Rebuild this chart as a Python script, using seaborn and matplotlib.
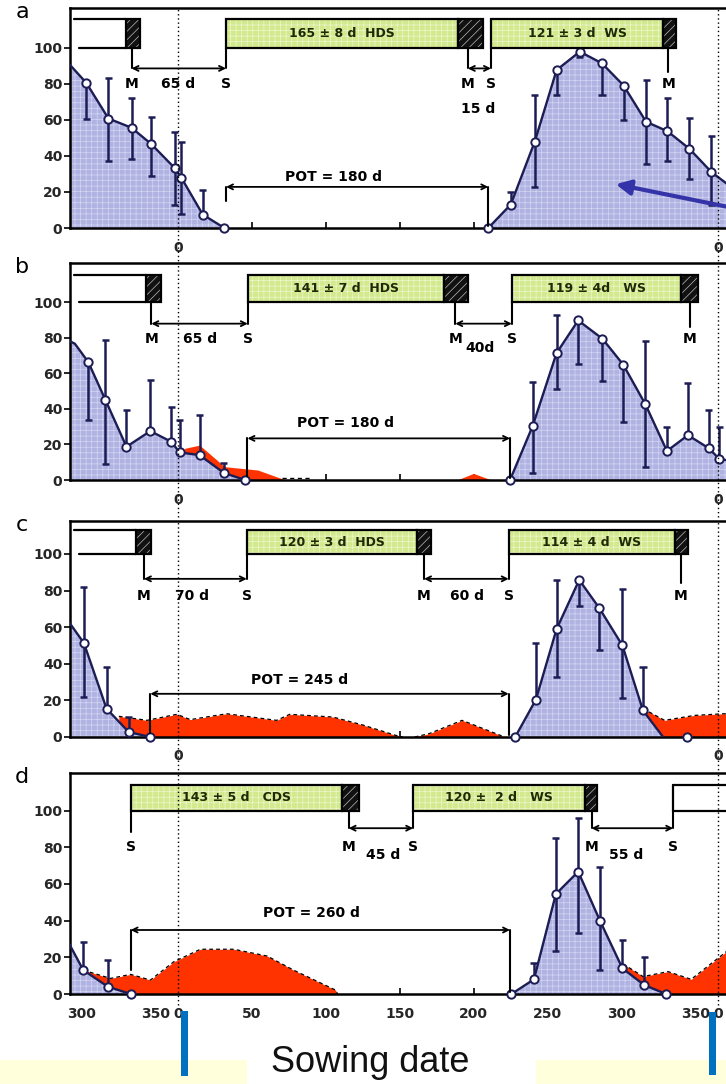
import matplotlib
matplotlib.use('Agg')
import matplotlib.pyplot as plt
from matplotlib.patches import Rectangle
import seaborn as sns

# ------------------------------------------------------------------ data
TICK_DAYS = [-65, -15, 0, 50, 100, 150, 200, 250, 300, 350, 365]
TICK_LABELS = ['300', '350', '0', '50', '100', '150', '200', '250', '300', '350', '0']
Y_TICKS = [0, 20, 40, 60, 80, 100]
PANEL_LETTERS = ['a', 'b', 'c', 'd']

# panel a
a_blue_l_day = [-73.3, -62, -47, -31.4, -18, -2.3, 2.2, 16.8, 31.4]
a_blue_l_val = [90.7, 80.5, 60.7, 55.6, 46.5, 33.3, 28, 7.4, 0]
a_blue_r_day = [209.8, 225, 241.2, 256, 271.7, 286.7, 301.3, 316.5, 330.9, 345.7, 360.7, 380]
a_blue_r_val = [0, 13, 47.8, 87.6, 97.8, 91.3, 79, 58.9, 53.7, 44, 31, 19]
a_pt_day = [-62, -47, -31.4, -18, -2.3, 2.2, 16.8, 31.4, 209.8, 225, 241.2, 256, 271.7, 286.7, 301.3, 316.5, 330.9, 345.7, 360.7]
a_pt_val = [80.5, 60.7, 55.6, 46.5, 33.3, 28, 7.4, 0, 0, 13, 47.8, 87.6, 97.8, 91.3, 79, 58.9, 53.7, 44, 31]
a_pt_lo = [60.7, 37, 38, 28.7, 13, 8, 7.4, 0, 0, 13, 23, 73.7, 95, 73.7, 59.8, 35.4, 37.2, 27.4, 12.6]
a_pt_hi = [80.5, 83.3, 71.9, 61.7, 53.3, 47.8, 21, 0, 0, 20, 73.7, 87.6, 97.8, 91.3, 79, 82, 71.9, 61, 51]
a_phases = [('open', -70, -35, ''), ('black', -35, -26, ''),
            ('green', 32.5, 189, '165 ± 8 d  HDS'), ('black', 189, 206, ''),
            ('green', 211.6, 328, '121 ± 3 d  WS'), ('black', 328, 337, '')]
a_ms = [(-31.4, 32.5, '65 d', 0, 80), (196, 211.6, '15 d', 203, 66)]
a_single_m = [331.5]
a_single_s = []
a_pot = (32.5, 209.8, 'POT = 180 d', 105)

# panel b
b_blue_l_day = [-73, -69.7, -60.7, -49, -34.8, -18.7, -4.5, 1.1, 14.6, 31, 45.4]
b_blue_l_val = [78, 76.6, 66.4, 44.9, 18.7, 27.5, 21.5, 15.5, 14, 4, 0]
b_blue_r_day = [224.5, 239.8, 256, 270.6, 287, 301, 316, 330.6, 344.8, 359, 366, 380]
b_blue_r_val = [0, 30.3, 71.4, 89.7, 79.4, 64.9, 42.6, 16.3, 25.2, 17.8, 11.8, 10]
b_pt_day = [-60.7, -49, -34.8, -18.7, -4.5, 1.1, 14.6, 31, 45.4, 224.5, 239.8, 256, 270.6, 287, 301, 316, 330.6, 344.8, 359, 366]
b_pt_val = [66.4, 44.9, 18.7, 27.5, 21.5, 15.5, 14, 4, 0, 0, 30.3, 71.4, 89.7, 79.4, 64.9, 42.6, 16.3, 25.2, 17.8, 11.8]
b_pt_lo = [34, 9, 18.7, 27.5, 21.5, 15.5, 14, 4, 0, 0, 4, 51.4, 65.4, 55.7, 32.7, 7.5, 16.3, 25.2, 17.8, 11.8]
b_pt_hi = [66.4, 78.9, 39.3, 56, 41, 34, 36.4, 9.3, 0, 0, 55, 92.5, 89.7, 79.4, 64.9, 78, 30, 54.6, 39.6, 30]
b_red1_day = [4.5, 14.6, 31.5, 54, 69.7, 72]
b_red1_val = [17.8, 19.6, 7.5, 5.6, 0.9, 0]
b_red2_day = [188.6, 199.8, 212]
b_red2_val = [0, 3.7, 0]
b_phases = [('open', -70, -21.4, ''), ('black', -21.4, -11.2, ''),
            ('green', 47.2, 179.6, '141 ± 7 d  HDS'), ('black', 179.6, 195.8, ''),
            ('green', 225.7, 340.3, '119 ± 4d   WS'), ('black', 340.3, 351.5, '')]
b_ms = [(-18, 47.2, '65 d', 14.6, 79.4), (187.5, 225.7, '40d', 204, 74)]
b_single_m = [346]
b_single_s = []
b_pot = (47, 224.5, 'POT = 180 d', 113)

# panel c
c_blue_l_day = [-73, -63.6, -48.3, -33.3, -18.6]
c_blue_l_val = [62, 51.3, 15.5, 2.7, 0]
c_blue_r_day = [228, 242, 256, 271.3, 284.8, 300.5, 314.4, 328]
c_blue_r_val = [0, 20.4, 59, 85.8, 70.5, 50, 14.5, 0]
c_pt_day = [-63.6, -48.3, -33.3, -18.6, 228, 242, 256, 271.3, 284.8, 300.5, 314.4, 344.5]
c_pt_val = [51.3, 15.5, 2.7, 0, 0, 20.4, 59, 85.8, 70.5, 50, 14.5, 0]
c_pt_lo = [21.8, 15.5, 2.7, 0, 0, 20.4, 32.7, 71.8, 47.3, 21.5, 14.5, 0]
c_pt_hi = [81.8, 38.2, 10.9, 0, 0, 51.3, 85.5, 85.8, 70.5, 81, 38.5, 0]
c_red1_day = [-40, -20.9, -0.7, 8.3, 33, 66.7, 75.6, 104.8, 124.8, 147.2, 152]
c_red1_val = [11.3, 9.1, 12.4, 9.5, 12.7, 9.1, 12.4, 10.9, 6.6, 0.9, 0]
c_red2_day = [160, 169.7, 192.1, 218, 220]
c_red2_val = [0, 1.8, 9.1, 0.9, 0]
c_red3_day = [314.4, 329, 349.2, 369.2, 380]
c_red3_val = [15.5, 9.1, 11.8, 12.7, 12.7]
c_phases = [('open', -70, -28.7, ''), ('black', -28.7, -18, ''),
            ('green', 46.5, 161.8, '120 ± 3 d  HDS'), ('black', 161.8, 170.8, ''),
            ('green', 224, 335.8, '114 ± 4 d  WS'), ('black', 335.8, 344.8, '')]
c_ms = [(-23, 46.5, '70 d', 9.6, 77.3), (166.4, 223.6, '60 d', 195.5, 77.3)]
c_single_m = [340]
c_single_s = []
c_pot = (-18.7, 223.6, 'POT = 245 d', 82)

# panel d
d_blue_l_day = [-75, -64, -47.4, -32]
d_blue_l_val = [29.5, 13, 4, 0]
d_blue_r_day = [225.5, 240.7, 255.5, 270.6, 285.3, 300.5, 315.2, 330]
d_blue_r_val = [0, 8, 54.5, 66.7, 40, 14, 4.9, 0]
d_pt_day = [-64, -47.4, -32, 225.5, 240.7, 255.5, 270.6, 285.3, 300.5, 315.2, 330]
d_pt_val = [13, 4, 0, 0, 8, 54.5, 66.7, 40, 14, 4.9, 0]
d_pt_lo = [13, 4, 0, 0, 8, 23.6, 33.5, 13, 14, 4.9, 0]
d_pt_hi = [28.5, 18.5, 0, 0, 16.7, 85, 95.8, 69.5, 29.5, 20, 0]
d_red1_day = [-64, -45.6, -32, -18.6, -2.8, 15.2, 37.7, 60.3, 78.2, 106.4, 108]
d_red1_val = [13, 8.5, 10.7, 7.6, 17.6, 24.4, 24.4, 20.7, 13, 2.2, 0]
d_red2_day = [301, 314.5, 331.4, 347, 370.6, 380]
d_red2_val = [16.4, 9.5, 12.2, 8, 23, 28]
d_phases = [('green', -32, 111, '143 ± 5 d   CDS'), ('black', 111, 122.3, ''),
            ('green', 159, 275, '120 ±  2 d   WS'), ('black', 275, 283, ''),
            ('openright', 334.8, 385, '')]
d_ms = [(115.4, 159, '45 d', 139, 75.8), (279.6, 334.8, '55 d', 303, 75.8)]
d_single_m = []
d_single_s = [-32]
d_pot = (-32, 224.5, 'POT = 260 d', 90)

# ------------------------------------------------------------------ style
RED = '#ff3300'
BLUE_FILL = '#b0b3e2'
NAVY = '#1d1d55'
GREEN = '#d2e98d'
DARKTXT = '#1f2a05'

sns.set_theme(style='white')
plt.rcParams['font.family'] = ['DejaVu Sans']
plt.rcParams['hatch.linewidth'] = 0.5

W, H = 726, 1084
fig = plt.figure(figsize=(W / 100, H / 100), dpi=100)
fig.patch.set_facecolor('white')

# layout (pixels): top, bottom, ylim-top, bar-top, M/S arrow level, M/S label level, POT level
LAYOUT = {
    'a': dict(top=8, bot=228, ytop=122, btop=116, msy=88.5, laby=80, poty=22.8, potlow=(15, 1), pottxt=28.5),
    'b': dict(top=263, bot=480, ytop=122, btop=115, msy=87.9, laby=79.4, poty=23.4, potlow=(2, 1), pottxt=31.8),
    'c': dict(top=521, bot=737, ytop=118, btop=113, msy=86.4, laby=77.3, poty=23.6, potlow=(2, 1), pottxt=30.9),
    'd': dict(top=773, bot=994, ytop=120.5, btop=114, msy=90.4, laby=80.4, poty=34.9, potlow=(13, 1), pottxt=44),
}

PANELS = {
    'a': dict(blue=[(a_blue_l_day, a_blue_l_val), (a_blue_r_day, a_blue_r_val)],
              pts=(a_pt_day, a_pt_val, a_pt_lo, a_pt_hi), red=[], dashed=False,
              phases=a_phases, ms=a_ms, sm=a_single_m, ss=a_single_s, pot=a_pot),
    'b': dict(blue=[(b_blue_l_day, b_blue_l_val), (b_blue_r_day, b_blue_r_val)],
              pts=(b_pt_day, b_pt_val, b_pt_lo, b_pt_hi),
              red=[(b_red1_day, b_red1_val), (b_red2_day, b_red2_val)], dashed=False,
              phases=b_phases, ms=b_ms, sm=b_single_m, ss=b_single_s, pot=b_pot),
    'c': dict(blue=[(c_blue_l_day, c_blue_l_val), (c_blue_r_day, c_blue_r_val)],
              pts=(c_pt_day, c_pt_val, c_pt_lo, c_pt_hi),
              red=[(c_red1_day, c_red1_val), (c_red2_day, c_red2_val), (c_red3_day, c_red3_val)], dashed=True,
              phases=c_phases, ms=c_ms, sm=c_single_m, ss=c_single_s, pot=c_pot),
    'd': dict(blue=[(d_blue_l_day, d_blue_l_val), (d_blue_r_day, d_blue_r_val)],
              pts=(d_pt_day, d_pt_val, d_pt_lo, d_pt_hi),
              red=[(d_red1_day, d_red1_val), (d_red2_day, d_red2_val)], dashed=True,
              phases=d_phases, ms=d_ms, sm=d_single_m, ss=d_single_s, pot=d_pot),
}

XL = (-73, 380)
AX_LEFT, AX_RIGHT = 70, 740
CAP = 2.4  # days
BOLD = dict(fontweight='bold', color='black')

for key in PANEL_LETTERS:
    L = LAYOUT[key]
    P = PANELS[key]
    ax = fig.add_axes([AX_LEFT / W, 1 - L['bot'] / H, (AX_RIGHT - AX_LEFT) / W, (L['bot'] - L['top']) / H])
    ax.set_facecolor('white')

    # red (weed) areas behind the crop areas
    for dd, vv in P['red']:
        ax.fill_between(dd, 0, vv, color=RED, linewidth=0, zorder=1)
        if P['dashed']:
            ax.plot(dd, vv, color='black', lw=0.9, ls=(0, (3, 2.5)), zorder=1.2)
    if key == 'b':
        ax.plot([70, 90], [1, 1], color='black', lw=1.0, ls=(0, (3, 2.5)), zorder=1.2)

    # crop areas
    for dd, vv in P['blue']:
        ax.fill_between(dd, 0, vv, facecolor=BLUE_FILL, edgecolor='#d4d6f2', hatch='+++',
                        linewidth=0, zorder=2)
        sns.lineplot(x=dd, y=vv, ax=ax, color=NAVY, linewidth=1.7, sort=False,
                     estimator=None, zorder=3)

    # error bars
    pd_, pv, plo, phi = P['pts']
    ax.vlines(pd_, plo, phi, color=NAVY, lw=1.8, zorder=3.5)
    for x, v, lo, hi in zip(pd_, pv, plo, phi):
        if lo < v - 0.5:
            ax.hlines(lo, x - CAP, x + CAP, color=NAVY, lw=1.8, zorder=3.5)
        if hi > v + 0.5:
            ax.hlines(hi, x - CAP, x + CAP, color=NAVY, lw=1.8, zorder=3.5)
    sns.scatterplot(x=pd_, y=pv, ax=ax, marker='o', s=36, color='white',
                    edgecolor=NAVY, linewidth=1.4, zorder=5, clip_on=False)

    # phase bars at the top
    btop = L['btop']
    for kind, s, e, txt in P['phases']:
        if kind == 'green':
            ax.add_patch(Rectangle((s, 100), e - s, btop - 100, facecolor=GREEN, edgecolor='#eef6cf',
                                   hatch='+++', linewidth=0, zorder=6))
            ax.add_patch(Rectangle((s, 100), e - s, btop - 100, fill=False, edgecolor='black',
                                   linewidth=1.6, zorder=6.5))
            ax.text((s + e) / 2, (100 + btop) / 2, txt, ha='center', va='center',
                    fontsize=9, fontweight='bold', color=DARKTXT, zorder=7)
        elif kind == 'black':
            ax.add_patch(Rectangle((s, 100), e - s, btop - 100, facecolor='#111111', edgecolor='#bbbbbb',
                                   hatch='////', linewidth=0, zorder=6))
            ax.add_patch(Rectangle((s, 100), e - s, btop - 100, fill=False, edgecolor='black',
                                   linewidth=1.6, zorder=6.5))
        elif kind == 'open':
            ax.plot([s, e], [btop, btop], color='black', lw=1.6, zorder=6.5)
            ax.plot([s + 3, e], [100, 100], color='black', lw=1.6, zorder=6.5)
        elif kind == 'openright':
            ax.plot([s, e], [btop, btop], color='black', lw=1.6, zorder=6.5)
            ax.plot([s, e], [100, 100], color='black', lw=1.6, zorder=6.5)
            ax.plot([s, s], [100, btop], color='black', lw=1.6, zorder=6.5)

    # maturity (M) -> sowing (S) intervals
    msy, laby = L['msy'], L['laby']
    for m, s, lab, lx, ly in P['ms']:
        ax.plot([m, m], [100, msy], color='black', lw=1.5, zorder=6)
        ax.plot([s, s], [100, msy], color='black', lw=1.5, zorder=6)
        ax.annotate('', xy=(s, msy), xytext=(m, msy),
                    arrowprops=dict(arrowstyle='<->', color='black', lw=1.3,
                                    shrinkA=0, shrinkB=0, mutation_scale=9), zorder=6)
        ax.text(m, laby, 'M', ha='center', va='center', fontsize=10, **BOLD)
        ax.text(s, laby, 'S', ha='center', va='center', fontsize=10, **BOLD)
        ax.text(lx, ly, lab, ha='center', va='center', fontsize=10, **BOLD)
    for m in P['sm']:
        ax.plot([m, m], [100, msy - 2], color='black', lw=1.5, zorder=6)
        ax.text(m, laby, 'M', ha='center', va='center', fontsize=10, **BOLD)
    for s in P['ss']:
        ax.plot([s, s], [100, msy - 2], color='black', lw=1.5, zorder=6)
        ax.text(s, laby, 'S', ha='center', va='center', fontsize=10, **BOLD)

    # period of time without crop (POT)
    ps, pe, ptxt, ptx = P['pot']
    py = L['poty']
    ax.annotate('', xy=(pe, py), xytext=(ps, py),
                arrowprops=dict(arrowstyle='<->', color='black', lw=1.3,
                                shrinkA=0, shrinkB=0, mutation_scale=9), zorder=6)
    ax.plot([ps, ps], [py, L['potlow'][0]], color='black', lw=1.5, zorder=6)
    ax.plot([pe, pe], [py, L['potlow'][1]], color='black', lw=1.5, zorder=6)
    ax.text(ptx, L['pottxt'], ptxt, ha='center', va='center', fontsize=10, zorder=7, **BOLD)

    # sowing-date dotted guides
    ymin = -0.05 if key == 'd' else -0.17
    for xv in (0, 365):
        ax.axvline(xv, ymin=ymin, ymax=1, color='black', lw=1.0, ls=(0, (1, 2)),
                   clip_on=False, zorder=8)

    if key == 'a':
        ax.annotate('', xy=(296, 24.3), xytext=(385, 9.5),
                    arrowprops=dict(arrowstyle='-|>', color='#3434a8', lw=3,
                                    mutation_scale=22, shrinkA=0, shrinkB=0), zorder=9)

    # axes
    ax.set_xlim(*XL)
    ax.set_ylim(0, L['ytop'])
    ax.set_xticks(TICK_DAYS)
    if key == 'd':
        ax.set_xticklabels(TICK_LABELS)
    else:
        ax.set_xticklabels([t if d in (0, 365) else '' for d, t in zip(TICK_DAYS, TICK_LABELS)])
    ax.set_yticks(Y_TICKS)
    ax.set_yticklabels([str(v) for v in Y_TICKS])
    ax.tick_params(axis='x', direction='in', length=4, width=1.4, pad=9, labelsize=10, bottom=True)
    ax.tick_params(axis='y', direction='out', length=4, width=1.4, pad=1.5, labelsize=10, left=True)
    for lab in ax.get_xticklabels() + ax.get_yticklabels():
        lab.set_fontweight('bold')
    for sp in ax.spines.values():
        sp.set_visible(True)
        sp.set_color('black')
        sp.set_linewidth(1.8)
    ax.set_xlabel('')
    ax.set_ylabel('')
    ax.grid(False)

    fig.text(22 / W, 1 - (L['top'] + 4) / H, key, fontsize=16, ha='center', va='center', color='black')

# ------------------------------------------------------------------ bottom overlay
ov = fig.add_axes([0, 0, 1, 1], zorder=20)
ov.set_xlim(0, W)
ov.set_ylim(H, 0)
ov.axis('off')
ov.patch.set_alpha(0)
ov.add_patch(Rectangle((0, 1060), 247, 24, facecolor='#ffffdc', edgecolor='none'))
ov.add_patch(Rectangle((536, 1060), 190, 24, facecolor='#ffffdc', edgecolor='none'))
ov.add_patch(Rectangle((181, 1011), 7, 65, facecolor='#0070c0', edgecolor='none'))
ov.add_patch(Rectangle((709, 1012), 7, 63, facecolor='#0070c0', edgecolor='none'))
ov.text(370, 1062, 'Sowing date', fontsize=26, family=['Liberation Sans', 'DejaVu Sans'],
        ha='center', va='center', color='#111111')

fig.savefig('out.png', dpi=100, facecolor='white')
